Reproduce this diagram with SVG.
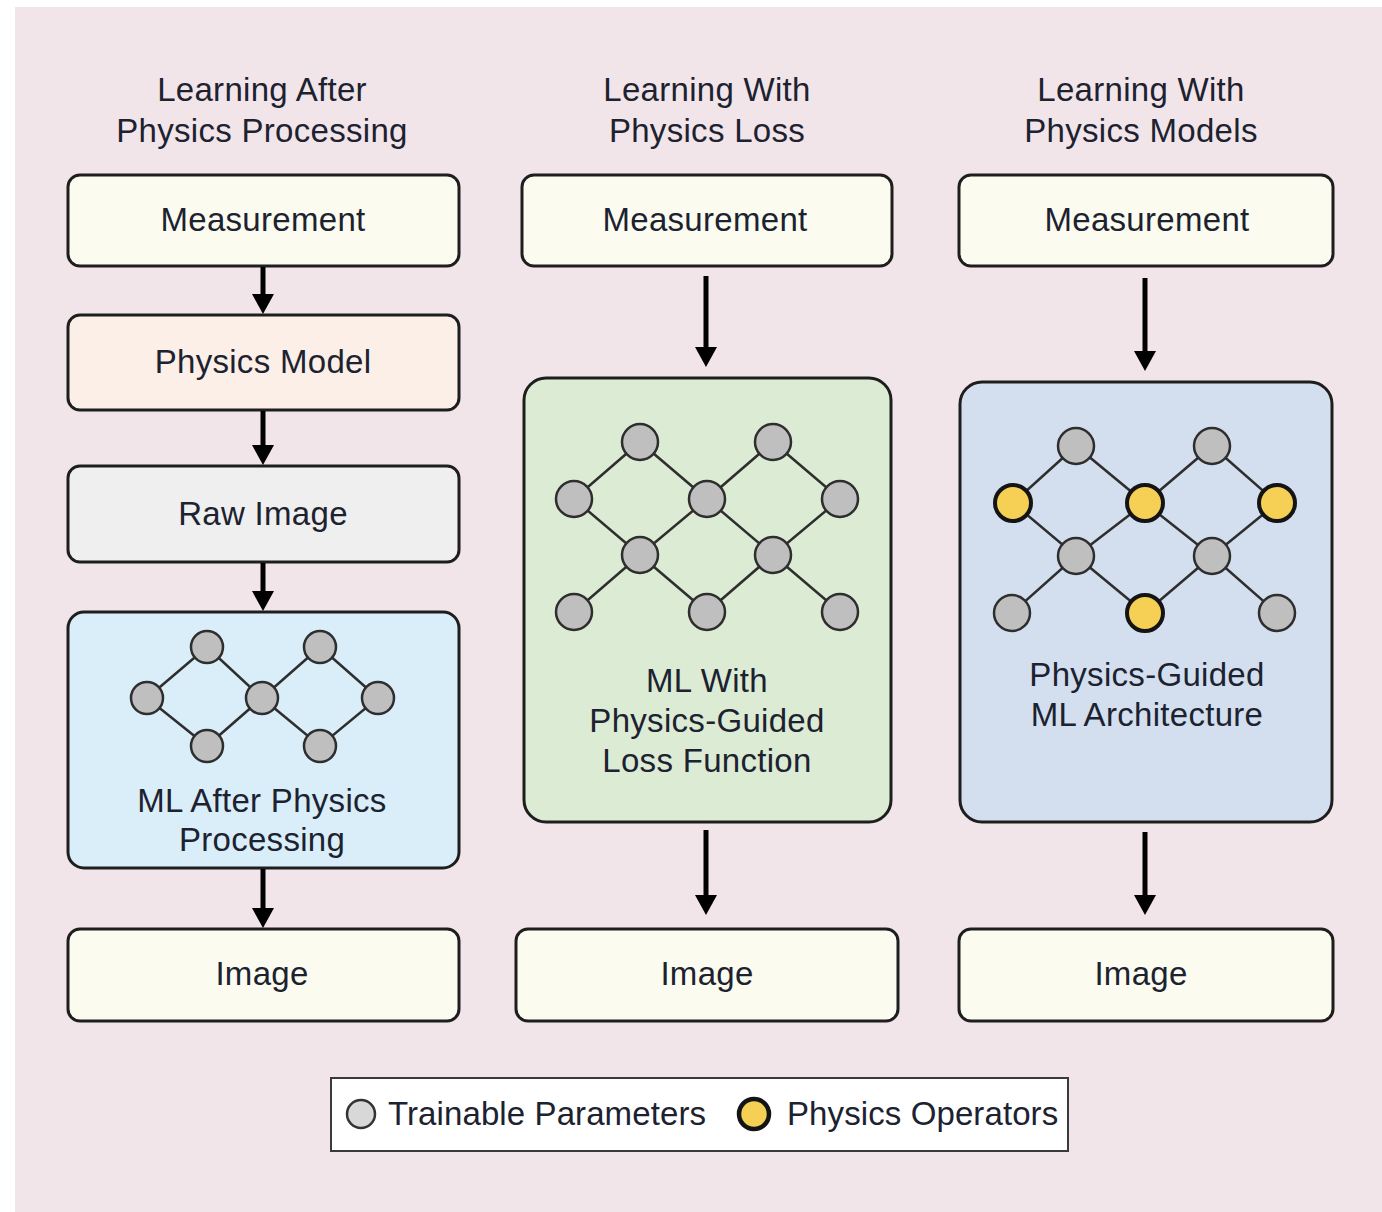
<svg xmlns="http://www.w3.org/2000/svg" width="1382" height="1212" viewBox="0 0 1382 1212">
  <defs>
    <marker id="head" markerUnits="userSpaceOnUse" viewBox="0 0 20 22" markerWidth="20" markerHeight="22" refX="8" refY="11" orient="auto">
      <path d="M0,0 L20,11 L0,22 Z" fill="#000"/>
    </marker>
    <style>
      .txt { font-family: "Liberation Sans", Arial, sans-serif; font-size: 33px; letter-spacing: 0.3px; fill: #1c2230; text-anchor: middle; }
      .ltxt { font-family: "Liberation Sans", Arial, sans-serif; font-size: 33px; letter-spacing: 0.1px; fill: #1c2230; }
      .box { stroke: #1e1e1e; stroke-width: 3; }
      .cream { fill: #fbfcef; }
      .peach { fill: #fbefe7; }
      .grey { fill: #f0efef; }
      .sky { fill: #d9eef8; }
      .mint { fill: #dcebd3; }
      .lav { fill: #d3dfee; }
      .arrow { stroke: #000; stroke-width: 5; fill: none; marker-end: url(#head); }
      .edge { stroke: #2e2e2e; stroke-width: 2.5; fill: none; }
      .tp { fill: #bfbfbf; stroke: #2e2e2e; stroke-width: 2.5; }
      .po { fill: #f6cf55; stroke: #141414; stroke-width: 4; }
    </style>
  </defs>

  <!-- backdrop -->
  <rect x="0" y="0" width="1382" height="1212" fill="#ffffff"/>
  <rect x="15" y="7" width="1367" height="1205" fill="#f2e5e9"/>

  <!-- column headings -->
  <g id="heading-after">
    <text class="txt" x="262" y="101">Learning After</text>
    <text class="txt" x="262" y="142">Physics Processing</text>
  </g>
  <g id="heading-loss">
    <text class="txt" x="707" y="101">Learning With</text>
    <text class="txt" x="707" y="142">Physics Loss</text>
  </g>
  <g id="heading-models">
    <text class="txt" x="1141" y="101">Learning With</text>
    <text class="txt" x="1141" y="142">Physics Models</text>
  </g>

  <!-- column 1: learning after physics processing -->
  <g id="c1-measurement">
    <rect class="box cream" x="68" y="175" width="391" height="91" rx="12"/>
    <text class="txt" x="263" y="231">Measurement</text>
  </g>
  <g id="c1-physics-model">
    <rect class="box peach" x="68" y="315" width="391" height="95" rx="12"/>
    <text class="txt" x="263" y="373">Physics Model</text>
  </g>
  <g id="c1-raw-image">
    <rect class="box grey" x="68" y="466" width="391" height="96" rx="12"/>
    <text class="txt" x="263" y="525">Raw Image</text>
  </g>
  <g id="c1-ml">
    <rect class="box sky" x="68" y="612" width="391" height="256" rx="16"/>
    <g class="edge">
      <path d="M147,698 L207,647 L262,698 L320,647 L378,698 L320,746 L262,698 L207,746 Z"/>
    </g>
    <circle class="tp" cx="207" cy="647" r="16"/>
    <circle class="tp" cx="320" cy="647" r="16"/>
    <circle class="tp" cx="147" cy="698" r="16"/>
    <circle class="tp" cx="262" cy="698" r="16"/>
    <circle class="tp" cx="378" cy="698" r="16"/>
    <circle class="tp" cx="207" cy="746" r="16"/>
    <circle class="tp" cx="320" cy="746" r="16"/>
    <text class="txt" x="262" y="812">ML After Physics</text>
    <text class="txt" x="262" y="851">Processing</text>
  </g>
  <g id="c1-image">
    <rect class="box cream" x="68" y="929" width="391" height="92" rx="12"/>
    <text class="txt" x="262" y="985">Image</text>
  </g>

  <!-- column 2: learning with physics loss -->
  <g id="c2-measurement">
    <rect class="box cream" x="522" y="175" width="370" height="91" rx="12"/>
    <text class="txt" x="705" y="231">Measurement</text>
  </g>
  <g id="c2-ml">
    <rect class="box mint" x="524" y="378" width="367" height="444" rx="22"/>
    <g class="edge">
      <path d="M574,499 L640,442 L707,499 L773,442 L840,499 L773,555 L707,612 L640,555 Z"/>
      <path d="M640,555 L574,612 M640,555 L707,499 L773,555 L840,612"/>
    </g>
    <circle class="tp" cx="640" cy="442" r="18"/>
    <circle class="tp" cx="773" cy="442" r="18"/>
    <circle class="tp" cx="574" cy="499" r="18"/>
    <circle class="tp" cx="707" cy="499" r="18"/>
    <circle class="tp" cx="840" cy="499" r="18"/>
    <circle class="tp" cx="640" cy="555" r="18"/>
    <circle class="tp" cx="773" cy="555" r="18"/>
    <circle class="tp" cx="574" cy="612" r="18"/>
    <circle class="tp" cx="707" cy="612" r="18"/>
    <circle class="tp" cx="840" cy="612" r="18"/>
    <text class="txt" x="707" y="692">ML With</text>
    <text class="txt" x="707" y="732">Physics-Guided</text>
    <text class="txt" x="707" y="772">Loss Function</text>
  </g>
  <g id="c2-image">
    <rect class="box cream" x="516" y="929" width="382" height="92" rx="12"/>
    <text class="txt" x="707" y="985">Image</text>
  </g>

  <!-- column 3: learning with physics models -->
  <g id="c3-measurement">
    <rect class="box cream" x="959" y="175" width="374" height="91" rx="12"/>
    <text class="txt" x="1147" y="231">Measurement</text>
  </g>
  <g id="c3-ml">
    <rect class="box lav" x="960" y="382" width="372" height="440" rx="22"/>
    <g class="edge">
      <path d="M1013,503 L1076,446 L1145,503 L1212,446 L1277,503 L1212,556 L1145,613 L1076,556 Z"/>
      <path d="M1076,556 L1012,613 M1076,556 L1145,503 L1212,556 L1277,613"/>
    </g>
    <circle class="tp" cx="1076" cy="446" r="18"/>
    <circle class="tp" cx="1212" cy="446" r="18"/>
    <circle class="po" cx="1013" cy="503" r="18"/>
    <circle class="po" cx="1145" cy="503" r="18"/>
    <circle class="po" cx="1277" cy="503" r="18"/>
    <circle class="tp" cx="1076" cy="556" r="18"/>
    <circle class="tp" cx="1212" cy="556" r="18"/>
    <circle class="tp" cx="1012" cy="613" r="18"/>
    <circle class="po" cx="1145" cy="613" r="18"/>
    <circle class="tp" cx="1277" cy="613" r="18"/>
    <text class="txt" x="1147" y="686">Physics-Guided</text>
    <text class="txt" x="1147" y="726">ML Architecture</text>
  </g>
  <g id="c3-image">
    <rect class="box cream" x="959" y="929" width="374" height="92" rx="12"/>
    <text class="txt" x="1141" y="985">Image</text>
  </g>

  <!-- connectors -->
  <g id="connectors">
    <line class="arrow" x1="263" y1="267" x2="263" y2="302"/>
    <line class="arrow" x1="263" y1="411" x2="263" y2="453"/>
    <line class="arrow" x1="263" y1="563" x2="263" y2="599"/>
    <line class="arrow" x1="263" y1="869" x2="263" y2="916"/>
    <line class="arrow" x1="706" y1="276" x2="706" y2="355"/>
    <line class="arrow" x1="706" y1="830" x2="706" y2="903"/>
    <line class="arrow" x1="1145" y1="278" x2="1145" y2="359"/>
    <line class="arrow" x1="1145" y1="832" x2="1145" y2="903"/>
  </g>

  <!-- legend -->
  <g id="legend">
    <rect x="331" y="1078" width="737" height="73" fill="#ffffff" stroke="#3a3a3a" stroke-width="2"/>
    <circle cx="361" cy="1114" r="14" fill="#d8d8d8" stroke="#333" stroke-width="2.5"/>
    <text class="ltxt" x="388" y="1125">Trainable Parameters</text>
    <circle cx="754" cy="1114" r="15" fill="#f6cf55" stroke="#141414" stroke-width="4.5"/>
    <text class="ltxt" x="787" y="1125">Physics Operators</text>
  </g>
</svg>
